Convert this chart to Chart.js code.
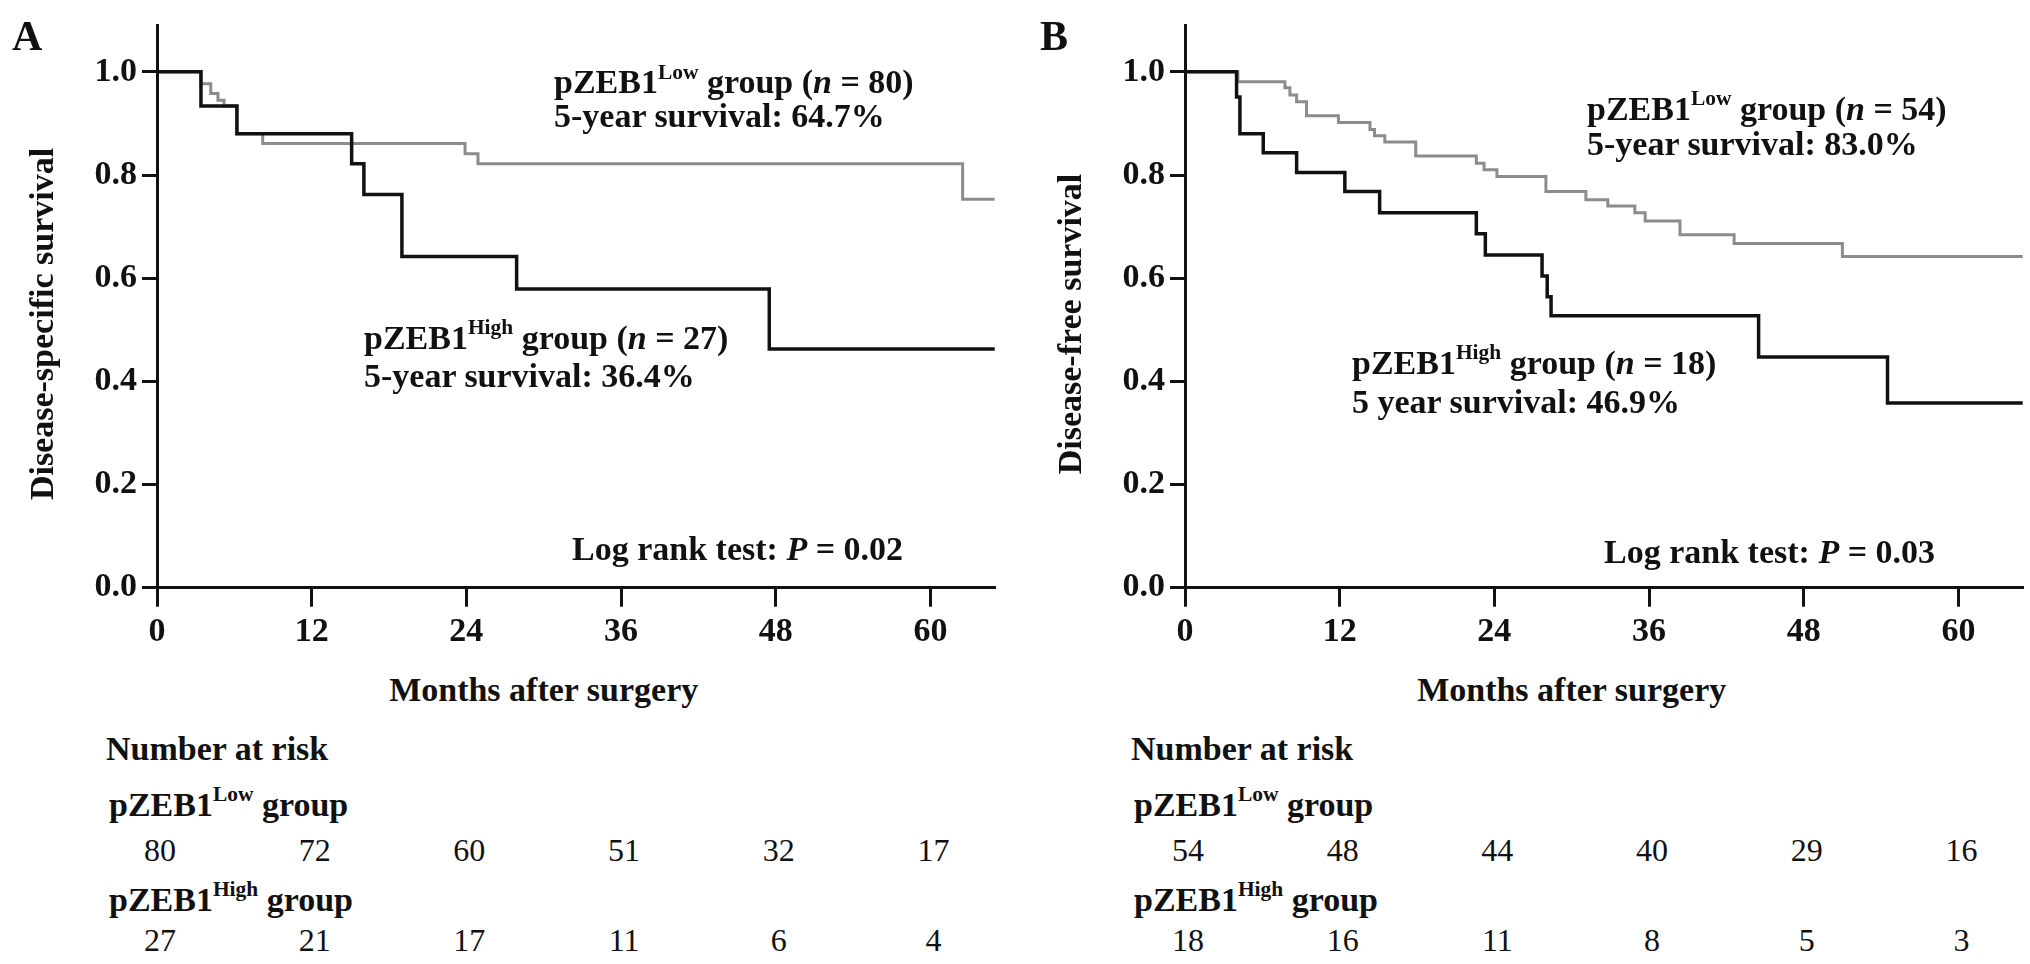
<!DOCTYPE html>
<html><head><meta charset="utf-8">
<script src="https://cdn.jsdelivr.net/npm/chart.js@4.4.0/dist/chart.umd.min.js"></script>
<style>
html,body{margin:0;padding:0;background:#fff;}
#root{position:relative;width:2030px;height:964px;overflow:hidden;background:#fff;font-family:"Liberation Serif","Times New Roman",serif;color:#111;}
canvas{position:absolute;top:0;}
.t{position:absolute;white-space:nowrap;z-index:2;}
.b{font-weight:bold;}
.sup{font-size:0.63em;position:relative;top:-0.66em;}
</style></head><body><div id="root"></div>
<script>
// ---------- data ----------
const xTickMonths = [0, 12, 24, 36, 48, 60];
const yTickValues = [0, 0.2, 0.4, 0.6, 0.8, 1.0];

// Panel A: disease-specific survival
const dssLowMonths  = [0, 3.41, 4.17, 4.73, 5.2, 6.2, 8.2, 23.9, 24.9, 62.5, 65];
const dssLowSurv    = [1, 0.977, 0.958, 0.945, 0.934, 0.88, 0.861, 0.841, 0.822, 0.753, 0.753];
const dssHighMonths = [0, 3.41, 6.2, 15.1, 16.05, 19.0, 27.9, 47.5, 65];
const dssHighSurv   = [1, 0.934, 0.88, 0.822, 0.762, 0.642, 0.579, 0.4625, 0.4625];

// Panel B: disease-free survival
const dfsLowMonths  = [0, 4.1, 7.75, 8.14, 8.66, 9.43, 11.9, 14.35, 14.7, 15.5, 17.9, 22.6, 23.2, 24.2, 28.0, 31.1, 32.8, 34.9, 35.7, 38.4, 42.6, 51.0, 65];
const dfsLowSurv    = [1, 0.981, 0.969, 0.955, 0.942, 0.915, 0.902, 0.888, 0.876, 0.864, 0.837, 0.823, 0.810, 0.797, 0.768, 0.752, 0.740, 0.727, 0.711, 0.684, 0.667, 0.642, 0.642];
const dfsHighMonths = [0, 4.0, 4.26, 6.07, 8.66, 12.4, 15.1, 22.6, 23.3, 27.7, 28.1, 28.4, 44.5, 54.5, 65];
const dfsHighSurv   = [1, 0.951, 0.88, 0.843, 0.805, 0.768, 0.727, 0.686, 0.645, 0.604, 0.564, 0.527, 0.447, 0.358, 0.358];

// Number at risk
const riskDssLow  = [80, 72, 60, 51, 32, 17];
const riskDssHigh = [27, 21, 17, 11, 6, 4];
const riskDfsLow  = [54, 48, 44, 40, 29, 16];
const riskDfsHigh = [18, 16, 11, 8, 5, 3];

// ---------- layout ----------
const FONT = '"Liberation Serif","Times New Roman",serif';
const INK = '#111111';
const GRAY = '#8c8c8c';
const root = document.getElementById('root');

function addText(html, x, baseline, size, bold, align) {
  const d = document.createElement('div');
  d.className = 't' + (bold ? ' b' : '');
  d.style.fontSize = size + 'px';
  d.style.lineHeight = size + 'px';
  d.style.top = (baseline - 0.8375 * size) + 'px';
  d.style.left = x + 'px';
  if (align === 'center') d.style.transform = 'translateX(-50%)';
  d.innerHTML = html;
  root.appendChild(d);
  return d;
}
function addRotated(text, cx, cy, size) {
  const d = document.createElement('div');
  d.className = 't b';
  d.style.fontSize = size + 'px';
  d.style.lineHeight = size + 'px';
  d.style.left = cx + 'px';
  d.style.top = cy + 'px';
  d.style.transform = 'translate(-50%,-50%) rotate(-90deg)';
  d.textContent = text;
  root.appendChild(d);
}
const pts = (xs, ys) => xs.map((x, i) => ({x: x, y: ys[i]}));

const panels = [
  {
    letter: 'A', canvasLeft: 0, canvasWidth: 1015, axisLeft: 157, riskX: 106,
    yTitle: 'Disease-specific survival',
    low: pts(dssLowMonths, dssLowSurv), high: pts(dssHighMonths, dssHighSurv),
    riskLow: riskDssLow, riskHigh: riskDssHigh,
    notes: [
      ['pZEB1<span class="sup">Low</span> group (<i>n</i> = 80)', 554, 93.5],
      ['5-year survival: 64.7%', 554, 127.5],
      ['pZEB1<span class="sup">High</span> group (<i>n</i> = 27)', 364, 349],
      ['5-year survival: 36.4%', 364, 387],
      ['Log rank test: <i>P</i> = 0.02', 572, 560]
    ]
  },
  {
    letter: 'B', canvasLeft: 1015, canvasWidth: 1015, axisLeft: 1185, riskX: 1131,
    yTitle: 'Disease-free survival',
    low: pts(dfsLowMonths, dfsLowSurv), high: pts(dfsHighMonths, dfsHighSurv),
    riskLow: riskDfsLow, riskHigh: riskDfsHigh,
    notes: [
      ['pZEB1<span class="sup">Low</span> group (<i>n</i> = 54)', 1587, 120],
      ['5-year survival: 83.0%', 1587, 155],
      ['pZEB1<span class="sup">High</span> group (<i>n</i> = 18)', 1352, 374],
      ['5 year survival: 46.9%', 1352, 413],
      ['Log rank test: <i>P</i> = 0.03', 1604, 563]
    ]
  }
];

const CANVAS_H = 660;
const PLOT_TOP = 12, PLOT_BOTTOM = 587.7;
const PX_PER_MONTH = 12.89, X_MAX = 65, Y_MAX = 1.09;

panels.forEach(p => {
  const cv = document.createElement('canvas');
  cv.width = p.canvasWidth; cv.height = CANVAS_H;
  cv.style.left = p.canvasLeft + 'px';
  cv.style.width = p.canvasWidth + 'px'; cv.style.height = CANVAS_H + 'px';
  root.appendChild(cv);

  const yWidth = p.axisLeft - p.canvasLeft;
  const plotRight = yWidth + X_MAX * PX_PER_MONTH;

  const chart = new Chart(cv, {
    type: 'line',
    data: {
      datasets: [
        {label: 'High', data: p.high, borderColor: INK, borderWidth: 3.5, stepped: 'before',
         pointRadius: 0, fill: false, tension: 0},
        {label: 'Low', data: p.low, borderColor: GRAY, borderWidth: 3, stepped: 'before',
         pointRadius: 0, fill: false, tension: 0}
      ]
    },
    options: {
      responsive: false, animation: false, devicePixelRatio: 1,
      layout: {padding: {left: 0, top: PLOT_TOP, right: p.canvasWidth - plotRight, bottom: 0}},
      plugins: {legend: {display: false}, tooltip: {enabled: false}},
      events: [],
      scales: {
        x: {
          type: 'linear', min: 0, max: X_MAX,
          afterBuildTicks: s => { s.ticks = xTickMonths.map(v => ({value: v})); },
          afterFit: s => { s.height = CANVAS_H - PLOT_BOTTOM; },
          ticks: {font: {family: FONT, size: 34, weight: 'bold'}, color: INK, padding: 5,
                  maxRotation: 0, autoSkip: false, callback: v => String(v)},
          grid: {drawOnChartArea: false, drawTicks: true, tickLength: 19, color: INK, lineWidth: 3},
          border: {display: true, color: INK, width: 3}
        },
        y: {
          type: 'linear', min: 0, max: Y_MAX,
          afterBuildTicks: s => { s.ticks = yTickValues.map(v => ({value: v})); },
          afterFit: s => { s.width = yWidth; },
          ticks: {font: {family: FONT, size: 34, weight: 'bold'}, color: INK, padding: 5,
                  autoSkip: false, callback: v => Number(v).toFixed(1)},
          grid: {drawOnChartArea: false, drawTicks: true, tickLength: 15, color: INK, lineWidth: 3},
          border: {display: true, color: INK, width: 3}
        }
      }
    }
  });

  const xs = chart.scales.x;
  const off = p.canvasLeft;
  addText(p.letter, p.axisLeft - 145, 50, 42, true);
  addRotated(p.yTitle, p.axisLeft - 115.5, 324, 34);
  const midX = off + (xs.getPixelForValue(xTickMonths[0]) + xs.getPixelForValue(xTickMonths[xTickMonths.length - 1])) / 2;
  addText('Months after surgery', midX, 701, 34, true, 'center');
  p.notes.forEach(n => addText(n[0], n[1], n[2], 34, true));
  addText('Number at risk', p.riskX, 760, 34, true);
  addText('pZEB1<span class="sup">Low</span> group', p.riskX + 3, 816, 34, true);
  addText('pZEB1<span class="sup">High</span> group', p.riskX + 3, 911, 34, true);
  xTickMonths.forEach((m, i) => {
    const px = off + xs.getPixelForValue(m) + 3;
    addText(String(p.riskLow[i]), px, 861, 32, false, 'center');
    addText(String(p.riskHigh[i]), px, 951, 32, false, 'center');
  });
});
</script></body></html>
